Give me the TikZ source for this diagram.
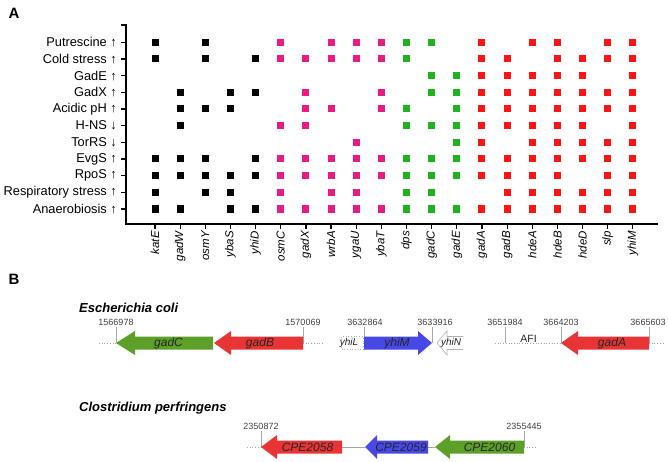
\documentclass[tikz,border=0pt]{standalone}
\usepackage{fontspec}
\setmainfont{Liberation Sans}
\usetikzlibrary{positioning}

\definecolor{dotpink}{RGB}{232,28,128}
\definecolor{dotgreen}{RGB}{30,180,30}
\definecolor{dotred}{RGB}{250,20,20}
\definecolor{arrgreen}{RGB}{92,160,42}
\definecolor{arrred}{RGB}{232,52,52}
\definecolor{arrblue}{RGB}{72,72,232}

% left- or right-pointing gene arrow: tip x, neck x, tail x, centre y, style
\newcommand{\genearrow}[5]{%
  \path[#5] (#1,#4) -- (#2,#4-12) -- (#2,#4-6.5) -- (#3,#4-6.5) -- (#3,#4+6.5)
    -- (#2,#4+6.5) -- (#2,#4+12) -- cycle;}

\begin{document}
\begin{tikzpicture}[
        x=1pt, y=-1pt,
        font=\fontsize{12.8}{14}\selectfont,
        dot/.style={minimum size=7pt, inner sep=0pt, draw=none},
        rowlab/.style={anchor=east, inner sep=0pt},
        genelab/.style={anchor=east, rotate=90, inner sep=0pt, font=\fontsize{11.5}{13}\selectfont\itshape},
        axis/.style={line width=1.2pt},
        panellab/.style={font=\fontsize{15}{16}\selectfont\bfseries, inner sep=0pt},
        species/.style={anchor=west, inner sep=0pt, font=\fontsize{13}{14}\selectfont\bfseries\itshape},
        coordlab/.style={font=\fontsize{9}{10}\selectfont, text=black!75, inner sep=0pt},
        genename/.style={font=\fontsize{12}{13}\selectfont\itshape, text=black!85, inner sep=0pt},
        smallname/.style={font=\fontsize{10}{11}\selectfont\itshape, text=black!85, inner sep=0pt},
        postick/.style={draw=gray!70, line width=0.5pt},
        flank/.style={draw=gray!70, dotted, line width=0.7pt},
        spacer/.style={draw=gray!70, line width=0.8pt}
      ]
      \fill[white] (0,0) rectangle (668,462);
      \useasboundingbox (0,0) rectangle (668,462);

      \node[panellab] (pa) at (14,13.5) {A};
      \node[panellab] (pb) at (14,279) {B};

      % axes
      \coordinate (ytop) at (126,25);
      \coordinate (origin) at (126,224);
      \coordinate (xend) at (658,224);
      \draw[axis] (121,25) -- (ytop) -- (origin) -- (xend);

      % conditions
      \foreach \r/\txt in {1/Putrescine ↑, 2/Cold stress ↑, 3/GadE ↑,
          4/GadX ↑, 5/Acidic pH ↑, 6/H-NS ↓, 7/TorRS ↓,
          8/EvgS ↑, 9/RpoS ↑, 10/Respiratory stress ↑, 11/Anaerobiosis ↑} {
        \draw[axis] (121,{42.3+(\r-1)*16.67}) -- (126,{42.3+(\r-1)*16.67});
        \node[rowlab] (lab-\r) at (117,{42.3+(\r-1)*16.67}) {\txt};
      }

      % genes
      \foreach \c/\g in {1/katE, 2/gadW, 3/osmY, 4/ybaS, 5/yhiD, 6/osmC, 7/gadX, 8/wrbA, 9/ygaU, 10/ybaT,
          11/dps, 12/gadC, 13/gadE, 14/gadA, 15/gadB, 16/hdeA, 17/hdeB, 18/hdeD, 19/slp, 20/yhiM} {
        \draw[axis] ({155+(\c-1)*25.15},224) -- ({155+(\c-1)*25.15},228.5);
        \node[genelab] (gene-\c) at ({155+(\c-1)*25.15},231) {\g};
      }

      % regulation matrix
      \foreach [count=\r] \row in {
          {1,3,6,8,9,10,11,12,14,16,17,19,20},
          {1,3,5,6,7,8,9,10,11,14,15,17,18,19,20},
          {12,13,14,15,16,17,18,20},
          {2,4,5,7,10,12,13,14,15,16,17,18,19,20},
          {2,3,4,7,8,10,11,13,14,15,16,17,18,19,20},
          {2,6,7,11,12,13,14,15,16,17,18,20},
          {9,13,14,16,17,18,19,20},
          {1,2,3,5,6,7,8,9,10,11,12,13,14,15,16,17,18,19,20},
          {1,2,3,4,5,6,7,8,9,10,11,12,13,14,15,16,17,19,20},
          {1,3,4,6,8,9,11,12,15,16,17,18,19,20},
          {1,2,4,5,6,7,8,9,10,11,12,13,14,15,16,17,18,19,20}} {
        \foreach \c in \row {
          \ifnum\c<6\relax \def\mc{black}\else
            \ifnum\c<11\relax \def\mc{dotpink}\else
              \ifnum\c<14\relax \def\mc{dotgreen}\else \def\mc{dotred}\fi\fi\fi
          \node[dot, fill=\mc] (m-\r-\c) at ({155+(\c-1)*25.15},{42.3+(\r-1)*16.67}) {};
        }
      }

      % Escherichia coli
      \node[species] (ecoli) at (79,308) {Escherichia coli};

      \draw[flank] (99,343) -- (116,343);
      \draw[flank] (303,343) -- (323,343);
      \draw[postick] (116,327) -- (116,343);
      \draw[postick] (303,327) -- (303,343);
      \node[coordlab] (p1) at (116,322) {1566978};
      \node[coordlab] (p2) at (303,322) {1570069};
      \genearrow{116}{135}{213}{343}{fill=arrgreen}
      \genearrow{214}{231}{303}{343}{fill=arrred}
      \node[genename] (gadC) at (168.5,343) {gadC};
      \node[genename] (gadB) at (260,343) {gadB};

      \draw[gray!60, dotted, line width=0.7pt] (341,336.5) rectangle (363,349.5);
      \node[smallname] (yhiL) at (349,343) {yhiL};
      \draw[postick] (364,327) -- (364,343);
      \draw[postick] (432,327) -- (432,343);
      \node[coordlab] (p3) at (365,322) {3632864};
      \node[coordlab] (p4) at (435,322) {3633916};
      \genearrow{432}{418}{364}{343}{fill=arrblue}
      \node[genename] (yhiM) at (397,343) {yhiM};
      \draw[gray!60, line width=0.6pt] (463,336.5) -- (447,336.5) -- (447,331) -- (437,343)
        -- (447,355) -- (447,349.5) -- (463,349.5);
      \node[smallname] (yhiN) at (451,343) {yhiN};

      \draw[flank] (495,343) -- (561,343);
      \draw[flank] (649,343) -- (665,343);
      \draw[postick] (505,327) -- (505,343);
      \draw[postick] (561,327) -- (561,343);
      \draw[postick] (649,327) -- (649,343);
      \node[coordlab] (p5) at (505,322) {3651984};
      \node[coordlab] (p6) at (561,322) {3664203};
      \node[coordlab] (p7) at (648,322) {3665603};
      \node[font=\fontsize{10.5}{11}\selectfont, text=black!85, inner sep=0pt] (afi) at (528.5,339) {AFI};
      \genearrow{561}{578}{649}{343}{fill=arrred}
      \node[genename] (gadA) at (612,343) {gadA};

      % Clostridium perfringens
      \node[species] (cperf) at (79,408) {Clostridium perfringens};

      \draw[flank] (247,447) -- (261,447);
      \draw[flank] (524,447) -- (537,447);
      \draw[spacer] (342,447) -- (365,447);
      \draw[spacer] (428,447) -- (435,447);
      \draw[postick] (261,431) -- (261,447);
      \draw[postick] (524,431) -- (524,447);
      \node[coordlab] (p8) at (261,426) {2350872};
      \node[coordlab] (p9) at (524,426) {2355445};
      \genearrow{261}{277}{342}{447}{fill=arrred}
      \genearrow{365}{377}{428}{447}{fill=arrblue}
      \genearrow{435}{450}{524}{447}{fill=arrgreen}
      \node[genename] (cpe58) at (307.5,447) {CPE2058};
      \node[genename] (cpe59) at (401,447) {CPE2059};
      \node[genename] (cpe60) at (489.5,447) {CPE2060};
    \end{tikzpicture}
\end{document}
